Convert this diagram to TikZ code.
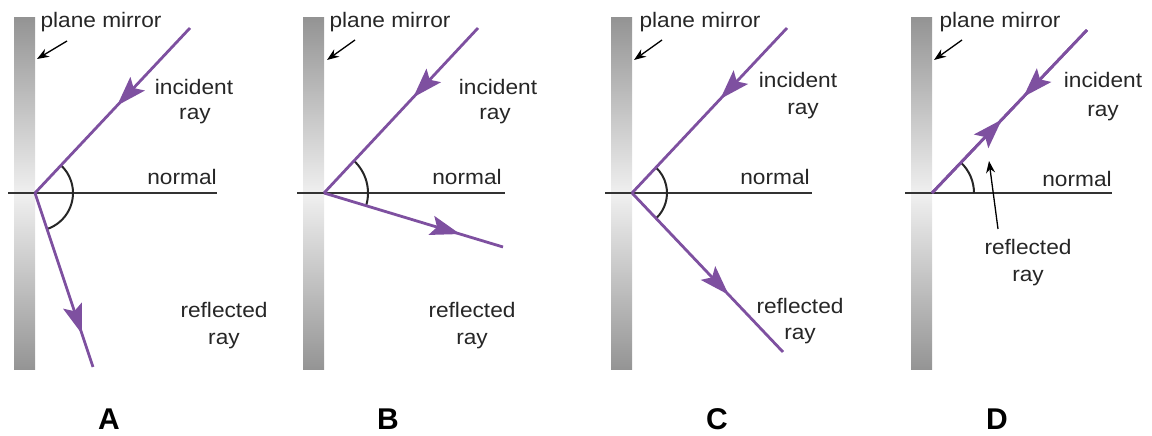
\documentclass[tikz,border=0pt]{standalone}
\usepackage{fontspec}
\setmainfont{Liberation Sans}
\usetikzlibrary{arrows.meta,decorations.markings,angles,calc}
\definecolor{raycol}{RGB}{126,80,160}
\newcommand\wx[1]{\scalebox{1.08}[1]{#1}}
\begin{document}
\begin{tikzpicture}[x=1pt,y=1pt,
  lbl/.style={font=\fontsize{21}{25}\selectfont, anchor=base, inner sep=0pt, text=black!85},
  big/.style={font=\fontsize{30}{36}\selectfont\bfseries, anchor=base, inner sep=0pt},
  mirror/.style={top color=black!42, bottom color=black!42, middle color=black!6},
  normalline/.style={line width=1.5pt, draw=black!80},
  rayline/.style={line width=2.8pt, color=raycol},
  ptr/.style={line width=1.3pt, -{Stealth[length=12pt,width=9pt]}},
  arcline/.style={draw=black!85, line width=2pt},
  tipat/.style={postaction={decorate, decoration={markings, mark=at position #1 with {\fill[raycol] (0,0) -- (-30,10) -- (-24,0) -- (-30,-10) -- cycle;}}}}
]
\useasboundingbox (0,0) rectangle (1152,436);

% ---------- coordinates ----------
\coordinate (HA) at (35,243);  \coordinate (IA) at (190,408); \coordinate (RA) at (93,69);
\coordinate (NA0) at (8,243);  \coordinate (NA1) at (217,243);
\coordinate (HB) at (324,243); \coordinate (IB) at (478,408); \coordinate (RB) at (503,189);
\coordinate (NB0) at (297,243); \coordinate (NB1) at (505,243);
\coordinate (HC) at (632,243); \coordinate (IC) at (787,408); \coordinate (RC) at (783,84);
\coordinate (NC0) at (605,243); \coordinate (NC1) at (812,243);
\coordinate (HD) at (932,243); \coordinate (ID) at (1087,406);
\coordinate (ND0) at (905,243); \coordinate (ND1) at (1112,243);

% ---------- mirrors ----------
\shade[mirror] (14,66) rectangle (35,418);
\shade[mirror] (303,66) rectangle (324,418);
\shade[mirror] (611,66) rectangle (632,418);
\shade[mirror] (911,66) rectangle (932,418);

% ---------- normals ----------
\draw[normalline] (NA0) -- (NA1);
\draw[normalline] (NB0) -- (NB1);
\draw[normalline] (NC0) -- (NC1);
\draw[normalline] (ND0) -- (ND1);

% ---------- angle arcs ----------
\pic[arcline, angle radius=38pt] {angle=RA--HA--IA};
\pic[arcline, angle radius=44pt] {angle=RB--HB--IB};
\pic[arcline, angle radius=35pt] {angle=RC--HC--IC};
\pic[arcline, angle radius=42pt] {angle=ND1--HD--ID};

% ---------- rays ----------
\draw[rayline, tipat=0.47] (IA) -- (HA);
\draw[rayline, tipat=0.81] (HA) -- (RA);
\draw[rayline, tipat=0.42] (IB) -- (HB);
\draw[rayline, tipat=0.76] (HB) -- (RB);
\draw[rayline, tipat=0.43] (IC) -- (HC);
\draw[rayline, tipat=0.64] (HC) -- (RC);
\draw[rayline, tipat=0.41] (ID) -- (HD);
\draw[rayline, tipat=0.45] (HD) -- (ID);

% ---------- labels A ----------
\node[lbl] (pmA) at (101,408) {\wx{plane mirror}};
\coordinate (pA0) at (67,395); \coordinate (pA1) at (37,377);
\draw[ptr] (pA0) -- (pA1);
\node[lbl] (incA) at (194,341) {\wx{incident}};
\node[lbl] (iraA) at (195,316) {\wx{ray}};
\node[lbl] (norA) at (182,251) {\wx{normal}};
\node[lbl] (refA) at (224,118) {\wx{reflected}};
\node[lbl] (rraA) at (224,91) {\wx{ray}};
\node[big] (A) at (109,6) {A};

% ---------- labels B ----------
\node[lbl] (pmB) at (390,408) {\wx{plane mirror}};
\coordinate (pB0) at (355,396); \coordinate (pB1) at (327,376);
\draw[ptr] (pB0) -- (pB1);
\node[lbl] (incB) at (498,341) {\wx{incident}};
\node[lbl] (iraB) at (495,316) {\wx{ray}};
\node[lbl] (norB) at (467,251) {\wx{normal}};
\node[lbl] (refB) at (472,118) {\wx{reflected}};
\node[lbl] (rraB) at (472,91) {\wx{ray}};
\node[big] (B) at (388,6) {B};

% ---------- labels C ----------
\node[lbl] (pmC) at (700,408) {\wx{plane mirror}};
\coordinate (pC0) at (662,396); \coordinate (pC1) at (634,376);
\draw[ptr] (pC0) -- (pC1);
\node[lbl] (incC) at (798,348) {\wx{incident}};
\node[lbl] (iraC) at (803,321) {\wx{ray}};
\node[lbl] (norC) at (775,251) {\wx{normal}};
\node[lbl] (refC) at (800,122) {\wx{reflected}};
\node[lbl] (rraC) at (800,96) {\wx{ray}};
\node[big] (C) at (717,6) {C};

% ---------- labels D ----------
\node[lbl] (pmD) at (1000,408) {\wx{plane mirror}};
\coordinate (pD0) at (962,396); \coordinate (pD1) at (934,376);
\draw[ptr] (pD0) -- (pD1);
\node[lbl] (incD) at (1103,348) {\wx{incident}};
\node[lbl] (iraD) at (1103,319) {\wx{ray}};
\node[lbl] (norD) at (1077,249) {\wx{normal}};
\node[lbl] (refD) at (1028,181) {\wx{reflected}};
\node[lbl] (rraD) at (1028,154) {\wx{ray}};
\coordinate (pE0) at (998,207);
\coordinate (pE1) at (989,275);
\draw[ptr] (pE0) -- (pE1);
\node[big] (D) at (997,6) {D};
\end{tikzpicture}
\end{document}
